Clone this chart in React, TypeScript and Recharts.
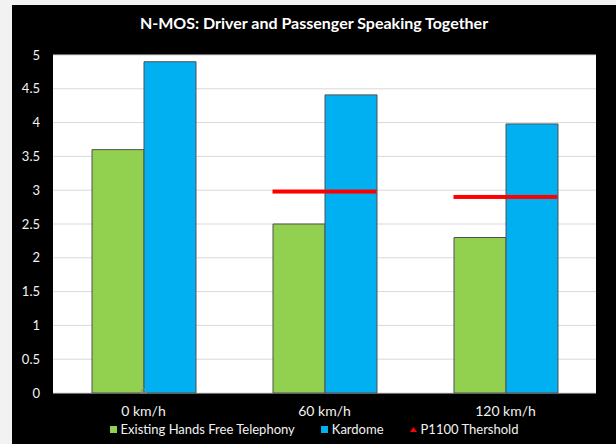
import {
  ComposedChart,
  Bar,
  Scatter,
  XAxis,
  YAxis,
  CartesianGrid,
} from 'recharts'

const categories = ['0 km/h', '60 km/h', '120 km/h']
const handsFree = [3.6, 2.5, 2.3]
const kardome = [4.9, 4.41, 3.98]
const threshold = [0, 2.98, 2.9]
const yTicks = [0, 0.5, 1, 1.5, 2, 2.5, 3, 3.5, 4, 4.5, 5]

const data = categories.map((name, i) => ({
  name,
  handsFree: handsFree[i],
  kardome: kardome[i],
  threshold: threshold[i],
}))

const FONT = 'Lato, "Open Sans", sans-serif'
const TEXT = '#f2f2f2'

// threshold drawn as a short red dash centred on the category
function ThresholdMark(props: any) {
  const { cx, cy, payload } = props
  if (payload.threshold === 0) {
    return (
      <path
        d={`M${cx - 3},${cy} L${cx},${cy - 5} L${cx + 3},${cy} Z`}
        fill="none"
        stroke="#8c8c8c"
        strokeWidth={1}
      />
    )
  }
  return <rect x={cx - 52} y={cy - 2} width={104} height={4} fill="#ff0000" />
}

function LegendContent() {
  const item = { display: 'flex', alignItems: 'center', marginRight: 26 }
  return (
    <div
      style={{
        position: 'absolute',
        left: 0,
        top: 417,
        width: 604,
        display: 'flex',
        justifyContent: 'center',
        fontFamily: FONT,
        fontSize: 13,
        color: TEXT,
        lineHeight: '14px',
      }}
    >
      <div style={item}>
        <span style={{ width: 7, height: 7, background: '#92D050', marginRight: 4 }} />
        Existing Hands Free Telephony
      </div>
      <div style={item}>
        <span style={{ width: 7, height: 7, background: '#00B0F0', marginRight: 4 }} />
        Kardome
      </div>
      <div style={{ ...item, marginRight: 0 }}>
        <svg width={7} height={7} style={{ marginRight: 4 }}>
          <path d="M0,6 L3.5,1 L7,6 Z" fill="#ff0000" />
        </svg>
        P1100 Thershold
      </div>
    </div>
  )
}

export default function App() {
  return (
    <div
      style={{
        position: 'fixed',
        top: 0,
        left: 0,
        width: 616,
        height: 444,
        background: '#f2f2f2',
        overflow: 'hidden',
      }}
    >
      <div
        style={{
          position: 'absolute',
          left: 12,
          top: 5,
          width: 604,
          height: 439,
          background: '#000',
        }}
      >
        <div
          style={{
            position: 'absolute',
            top: 8,
            left: 0,
            width: 604,
            textAlign: 'center',
            fontFamily: FONT,
            fontWeight: 700,
            fontSize: 16,
            color: '#fff',
          }}
        >
          N-MOS: Driver and Passenger Speaking Together
        </div>
        <ComposedChart
          width={604}
          height={439}
          data={data}
          margin={{ top: 50, right: 20, bottom: 21, left: 0 }}
          barCategoryGap={39}
          barGap={0}
        >
          <CartesianGrid vertical={false} stroke="#d9d9d9" fill="#ffffff" />
          <XAxis
            dataKey="name"
            axisLine={false}
            tickLine={false}
            tickMargin={7}
            height={30}
            tick={{ fill: TEXT, fontSize: 14, fontFamily: FONT }}
          />
          <YAxis
            domain={[0, 5]}
            ticks={yTicks}
            width={41}
            axisLine={false}
            tickLine={false}
            tickMargin={7}
            tick={{ fill: TEXT, fontSize: 13, fontFamily: FONT }}
          />
          <Bar
            dataKey="handsFree"
            fill="#92D050"
            stroke="#505050"
            strokeWidth={1}
            isAnimationActive={false}
          />
          <Bar
            dataKey="kardome"
            fill="#00B0F0"
            stroke="#505050"
            strokeWidth={1}
            isAnimationActive={false}
          />
          <Scatter
            dataKey="threshold"
            shape={<ThresholdMark />}
            isAnimationActive={false}
          />
        </ComposedChart>
        <LegendContent />
      </div>
    </div>
  )
}
